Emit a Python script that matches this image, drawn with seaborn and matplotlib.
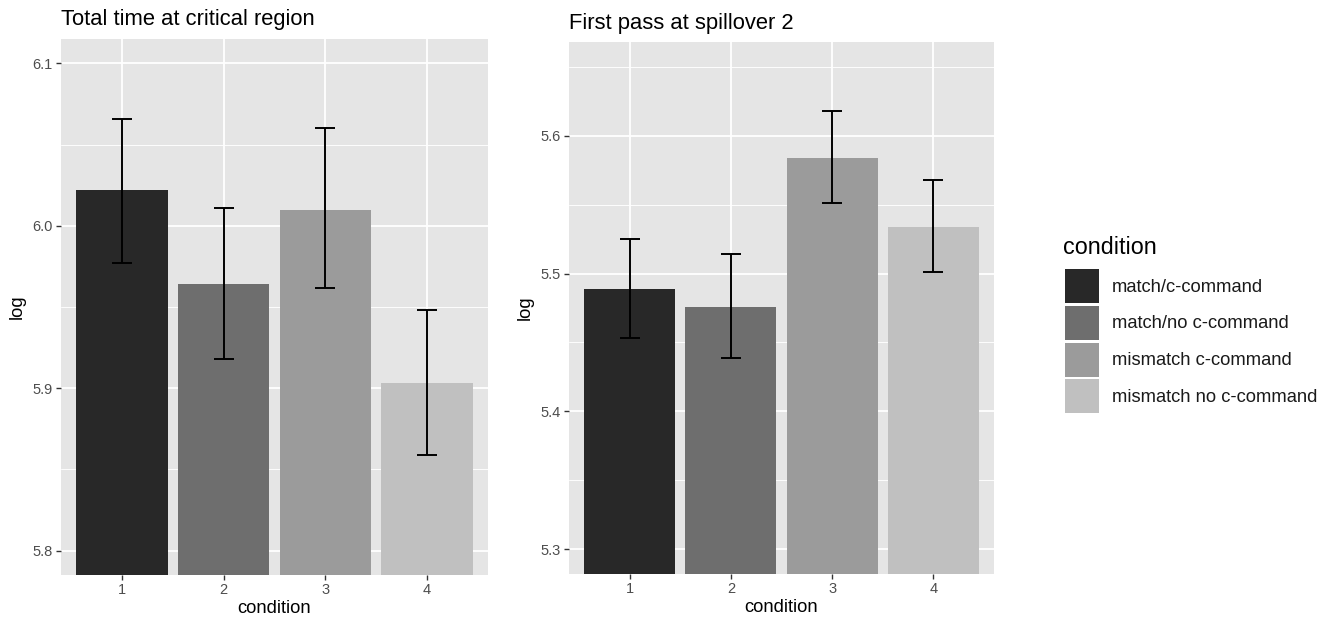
import matplotlib
matplotlib.use("Agg")
import matplotlib.pyplot as plt
import numpy as np
import pandas as pd
import seaborn as sns
from matplotlib.ticker import MultipleLocator, FormatStrFormatter

# Condition codes and their descriptive labels
conditions = ["1", "2", "3", "4"]
condition_labels = ["match/c-command", "match/no c-command",
                    "mismatch c-command", "mismatch no c-command"]

# Total time at critical region: mean log reading time and error bar limits
total_mean = [6.022, 5.964, 6.010, 5.903]
total_low = [5.977, 5.918, 5.962, 5.859]
total_high = [6.066, 6.011, 6.060, 5.948]

# First pass at spillover 2
first_mean = [5.489, 5.476, 5.584, 5.534]
first_low = [5.453, 5.439, 5.551, 5.501]
first_high = [5.525, 5.514, 5.618, 5.568]

fills = ["#282828", "#6e6e6e", "#9b9b9b", "#c0c0c0"]

sns.set_theme(style="darkgrid")
plt.rcParams["font.family"] = ["Liberation Sans", "DejaVu Sans"]

W, H = 1338, 622
fig = plt.figure(figsize=(W / 100, H / 100), dpi=100)
fig.patch.set_facecolor("white")


def px_axes(left, top, right, bottom):
    return fig.add_axes([left / W, 1 - bottom / H, (right - left) / W, (bottom - top) / H])


def panel(ax, means, lows, highs, title, ylim, major, minor, title_pad):
    df = pd.DataFrame({"condition": conditions, "log": means, "label": condition_labels})
    sns.barplot(data=df, x="condition", y="log", hue="label", hue_order=condition_labels,
                palette=fills, dodge=False, width=0.9, ax=ax, saturation=1,
                linewidth=0, legend=True)
    x = np.arange(len(conditions))
    m = np.array(means)
    ax.errorbar(x, m, yerr=[m - np.array(lows), np.array(highs) - m], fmt="none",
                ecolor="black", elinewidth=1.4, capsize=7.4, capthick=1.4, zorder=5)
    ax.set_xlim(-0.6, 3.6)
    ax.set_ylim(*ylim)
    ax.set_facecolor("#e5e5e5")
    ax.yaxis.set_major_locator(MultipleLocator(major))
    ax.yaxis.set_minor_locator(MultipleLocator(minor))
    ax.grid(True, which="major", color="white", linewidth=1.3)
    ax.grid(True, which="minor", axis="y", color="white", linewidth=0.65)
    ax.set_axisbelow(True)
    for s in ax.spines.values():
        s.set_visible(False)
    ax.tick_params(axis="both", which="major", length=3.3, width=1.0, color="#333333",
                   labelsize=10.5, labelcolor="#4d4d4d", pad=2.6, bottom=True, left=True)
    ax.tick_params(axis="y", which="minor", length=0)
    ax.yaxis.set_major_formatter(FormatStrFormatter("%.1f"))
    ax.set_xlabel("condition", fontsize=13.2, color="black", labelpad=2)
    ax.set_ylabel("log", fontsize=13.2, color="black", labelpad=5)
    ax.set_title(title, loc="left", fontsize=15.8, color="black", pad=title_pad)


ax1 = px_axes(61, 39, 488, 575)
panel(ax1, total_mean, total_low, total_high, "Total time at critical region",
      (5.785, 6.115), 0.1, 0.05, 10)

ax2 = px_axes(569, 42, 994, 574)
panel(ax2, first_mean, first_low, first_high, "First pass at spillover 2",
      (5.282, 5.668), 0.1, 0.05, 9.5)

handles, labels = ax2.get_legend_handles_labels()
for ax in (ax1, ax2):
    if ax.get_legend() is not None:
        ax.get_legend().remove()

# Shared legend on the right, with its title set as a separate text line
fig.text(1063 / W, 1 - 254 / H, "condition", fontsize=16.8, color="black",
         ha="left", va="baseline")
leg = fig.legend(handles, labels, loc="upper left",
                 bbox_to_anchor=(1065 / W, 1 - 269 / H), frameon=False,
                 fontsize=13.2, handlelength=1.86, handleheight=2.48,
                 labelspacing=0.15, handletextpad=0.7,
                 borderaxespad=0, borderpad=0)
for t in leg.get_texts():
    t.set_color("#1a1a1a")

fig.savefig("out.png", dpi=100, facecolor="white")
